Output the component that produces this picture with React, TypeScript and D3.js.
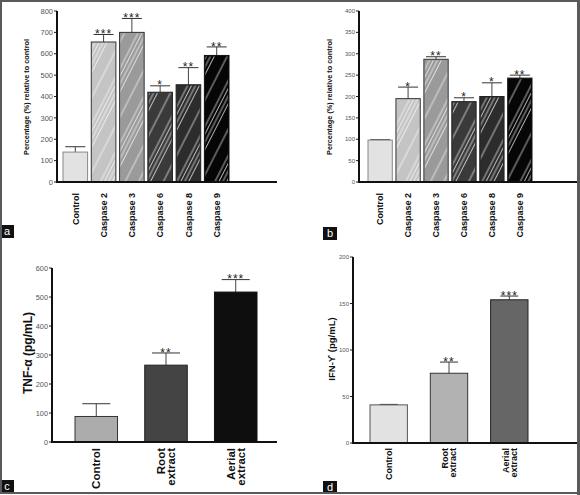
import React from "react";
import * as d3 from "d3";

// ---------- data ----------
const casCats = ["Control", "Caspase 2", "Caspase 3", "Caspase 6", "Caspase 8", "Caspase 9"];
const valsA = [140, 655, 700, 420, 455, 592];
const errA = [165, 690, 765, 450, 535, 632];
const sigA = ["", "***", "***", "*", "**", "**"];
const valsB = [98, 195, 287, 188, 200, 243];
const errB = [99, 222, 293, 197, 232, 250];
const sigB = ["", "*", "**", "*", "*", "**"];

const extCats = ["Control", "Root extract", "Aerial extract"];
const valsC = [88, 265, 517];
const errC = [132, 307, 560];
const sigC = ["", "**", "***"];
const valsD = [41, 75, 154];
const errD = [41.5, 87, 158];
const sigD = ["", "**", "***"];

const ticksA = [0, 100, 200, 300, 400, 500, 600, 700, 800];
const ticksB = [0, 50, 100, 150, 200, 250, 300, 350, 400];
const ticksC = [0, 100, 200, 300, 400, 500, 600];
const ticksD = [0, 50, 100, 150, 200];

const casColors = ["#e2e2e2", "#c4c4c4", "#9a9a9a", "#3a3a3a", "#2c2c2c", "#060606"];
const cColors = ["#acacac", "#444444", "#0e0e0e"];
const dColors = ["#e2e2e2", "#b2b2b2", "#666666"];

type PanelProps = {
  id: string;
  cats: string[];
  vals: number[];
  errs: number[];
  sigs: string[];
  colors: string[];
  ticks: number[];
  yMax: number;
  hatch: boolean;
  bx0: number;
  bx1: number;
  padInner: number;
  axisX: number;
  axisTop: number;
  axisBottom: number;
  axisRight: number;
  tickFont: number;
  capW: number;
  title: string;
  titleX: number;
  titleY: number;
  titleFont: number;
  labelFont: number;
  labelTop: number;
  lineGap: number;
  splitLabels: boolean;
  starFont: number;
  strokes: string[];
};

const Panel = (p: PanelProps) => {
  const x = d3.scaleBand<string>().domain(p.cats).range([p.bx0, p.bx1]).paddingInner(p.padInner).paddingOuter(0);
  const y = d3.scaleLinear().domain([0, p.yMax]).range([p.axisBottom, p.axisTop]);
  const bw = x.bandwidth();
  return (
    <g>
      {p.hatch && (
        <defs>
          <pattern id={"hatch" + p.id} patternUnits="userSpaceOnUse" width={34} height={40} patternTransform="rotate(27)">
            {[2, 5.5, 9, 12.5, 24].map((lx, i) => (
              <line key={i} x1={lx} x2={lx} y1={0} y2={40} stroke="#ffffff" strokeWidth={0.8} opacity={0.85} />
            ))}
          </pattern>
        </defs>
      )}
      {p.cats.map((c, i) => {
        const bx = x(c)!;
        const cx = bx + bw / 2;
        const top = y(p.vals[i]);
        const et = y(p.errs[i]);
        return (
          <g key={c}>
            <line x1={cx} x2={cx} y1={top} y2={et} stroke="#444" strokeWidth={1} />
            <line x1={cx - p.capW / 2} x2={cx + p.capW / 2} y1={et} y2={et} stroke="#333" strokeWidth={1} />
            <rect x={bx} y={top} width={bw} height={p.axisBottom - top} fill={p.colors[i]} stroke={p.strokes[i]} strokeWidth={1} />
            {p.hatch && i > 0 && (
              <rect x={bx + 1} y={top + 1} width={bw - 2} height={p.axisBottom - top - 2} fill={`url(#hatch${p.id})`} />
            )}
            {p.sigs[i] && (
              <text x={cx} y={et + p.starFont * 0.3} textAnchor="middle" fontFamily="Liberation Sans, Arial, sans-serif" fontSize={p.starFont} fill="#222" letterSpacing={1}>
                {p.sigs[i]}
              </text>
            )}
            {(() => {
              const words = p.splitLabels ? c.split(" ") : [c];
              const n = words.length;
              return words.map((w, k) => {
                const lx = cx + p.labelFont * 0.36 + (k - (n - 1) / 2) * p.lineGap;
                return (
                  <text
                    key={k}
                    transform={`translate(${lx},${p.labelTop}) rotate(-90)`}
                    textAnchor="end"
                    fontFamily="Liberation Sans, Arial, sans-serif"
                    fontWeight="bold"
                    fontSize={p.labelFont}
                    fill="#111"
                  >
                    {w}
                  </text>
                );
              });
            })()}
          </g>
        );
      })}
      {p.ticks.map((t) => (
        <g key={t}>
          <line x1={p.axisX - 3} x2={p.axisX} y1={y(t)} y2={y(t)} stroke="#222" strokeWidth={1} />
          <text x={p.axisX - 4} y={y(t) + p.tickFont * 0.35} textAnchor="end" fontFamily="Liberation Sans, Arial, sans-serif" fontSize={p.tickFont} fill="#555">
            {t}
          </text>
        </g>
      ))}
      <line x1={p.axisX} x2={p.axisX} y1={p.axisTop} y2={p.axisBottom + 1} stroke="#111" strokeWidth={2} />
      <line x1={p.axisX} x2={p.axisRight} y1={p.axisBottom} y2={p.axisBottom} stroke="#111" strokeWidth={2} />
      <text
        transform={`translate(${p.titleX},${p.titleY}) rotate(-90)`}
        textAnchor="middle"
        fontFamily="Liberation Sans, Arial, sans-serif"
        fontWeight="bold"
        fontSize={p.titleFont}
        fill="#111"
      >
        {p.title}
      </text>
    </g>
  );
};

const Tag = ({ x, y, label }: { x: number; y: number; label: string }) => (
  <g>
    <rect x={x} y={y} width={14} height={13} fill="#111" />
    <text x={x + 7} y={y + 10} textAnchor="middle" fontFamily="Liberation Sans, Arial, sans-serif" fontSize={11} fill="#fff">
      {label}
    </text>
  </g>
);

export default function App() {
  return (
    <svg width={580} height={495} style={{ position: "absolute", left: 0, top: 0, background: "#fff" }}>
      <rect x={0} y={0} width={580} height={495} fill="#fff" />
      <Panel
        id="a" cats={casCats} vals={valsA} errs={errA} sigs={sigA} colors={casColors}
        strokes={["#888", "#333", "#333", "#222", "#222", "#111"]}
        ticks={ticksA} yMax={800} hatch={true}
        bx0={63} bx1={229} padInner={0.13}
        axisX={57} axisTop={11} axisBottom={182} axisRight={277}
        tickFont={7.5} capW={20}
        title="Percentage (%) relative to control" titleX={29} titleY={97} titleFont={7.3}
        labelFont={9} labelTop={193} lineGap={10} splitLabels={false} starFont={12}
      />
      <Panel
        id="b" cats={casCats} vals={valsB} errs={errB} sigs={sigB} colors={casColors}
        strokes={["#888", "#333", "#333", "#222", "#222", "#111"]}
        ticks={ticksB} yMax={400} hatch={true}
        bx0={368} bx1={532} padInner={0.13}
        axisX={359} axisTop={11} axisBottom={182} axisRight={580}
        tickFont={6} capW={20}
        title="Percentage (%) relative to control" titleX={332} titleY={97} titleFont={7.3}
        labelFont={9} labelTop={193} lineGap={10} splitLabels={false} starFont={12}
      />
      <Panel
        id="c" cats={extCats} vals={valsC} errs={errC} sigs={sigC} colors={cColors}
        strokes={["#333", "#222", "#111"]}
        ticks={ticksC} yMax={600} hatch={false}
        bx0={75} bx1={257} padInner={0.39}
        axisX={52} axisTop={268} axisBottom={442} axisRight={277}
        tickFont={7.3} capW={28}
        title="TNF-α (pg/mL)" titleX={32} titleY={353} titleFont={12}
        labelFont={11.5} labelTop={448} lineGap={10} splitLabels={true} starFont={12}
      />
      <Panel
        id="d" cats={extCats} vals={valsD} errs={errD} sigs={sigD} colors={dColors}
        strokes={["#555", "#333", "#222"]}
        ticks={ticksD} yMax={200} hatch={false}
        bx0={370} bx1={528} padInner={0.38}
        axisX={353} axisTop={257} axisBottom={443} axisRight={580}
        tickFont={6} capW={18}
        title="IFN-ϒ (pg/mL)" titleX={335} titleY={349} titleFont={9.5}
        labelFont={9} labelTop={448} lineGap={8} splitLabels={true} starFont={12}
      />
      <Tag x={0} y={225} label="a" />
      <Tag x={323} y={227} label="b" />
      <Tag x={0} y={480} label="c" />
      <Tag x={323} y={481} label="d" />
      <rect x={1} y={1} width={577} height={492} fill="none" stroke="#5a5a5a" strokeWidth={2} />
      <line x1={578.5} x2={578.5} y1={0} y2={495} stroke="#5a5a5a" strokeWidth={3} />
    </svg>
  );
}
